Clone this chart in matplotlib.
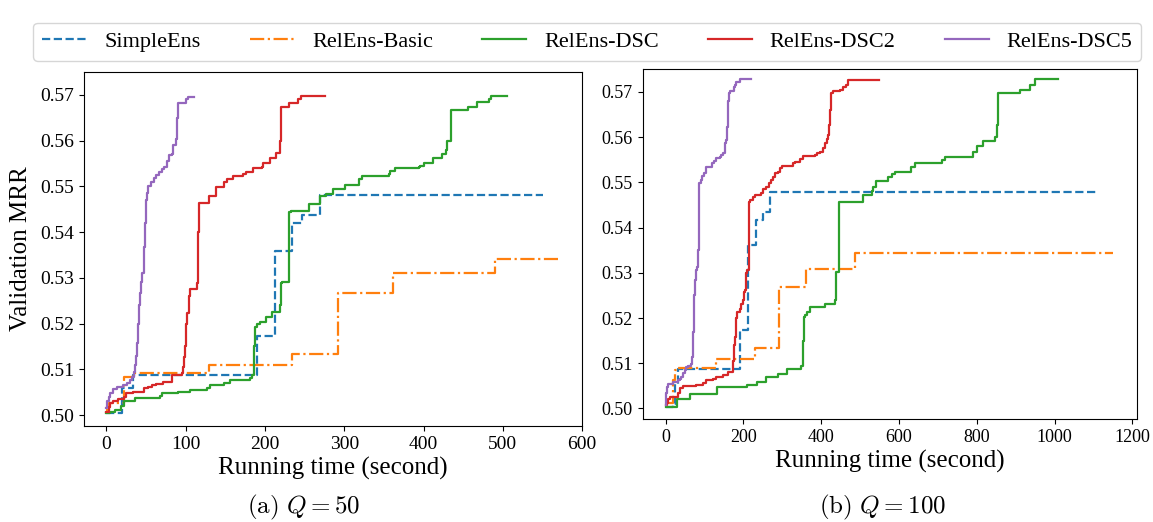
'''
Validation MRR against running time for the ensemble search variants, Q = 50 and Q = 100.
'''
import matplotlib
matplotlib.use("Agg")
import matplotlib.pyplot as plt

# Series names and styles shared by both panels
series_names = ["SimpleEns", "RelEns-Basic", "RelEns-DSC", "RelEns-DSC2", "RelEns-DSC5"]

# ---- Panel (a): Q = 50 (running time in seconds, validation MRR) ----
q50_simple_x = [0, 20, 34, 190, 213, 234, 247, 269, 551]
q50_simple_y = [0.5004, 0.5059, 0.5087, 0.5172, 0.5359, 0.5419, 0.5437, 0.5480, 0.5480]

q50_basic_x = [0, 3, 22, 34, 129, 234, 292, 361, 490, 569]
q50_basic_y = [0.5012, 0.5026, 0.5084, 0.5091, 0.5109, 0.5133, 0.5267, 0.5311, 0.5341, 0.5341]

q50_dsc_x = [0, 5, 11, 18, 22, 36, 68, 70, 90, 106, 127, 131, 148, 156, 181, 184, 186, 188,
             190, 194, 202, 209, 219, 220, 221, 231, 233, 255, 269, 277, 286, 301, 319, 322,
             356, 358, 364, 394, 396, 400, 412, 423, 428, 430, 435, 456, 467, 482, 485, 505]
q50_dsc_y = [0.5004, 0.5007, 0.5012, 0.5020, 0.5030, 0.5037, 0.5042, 0.5048, 0.5051, 0.5055,
             0.5060, 0.5065, 0.5070, 0.5076, 0.5082, 0.5087, 0.5150, 0.5193, 0.5198, 0.5204,
             0.5215, 0.5226, 0.5240, 0.5288, 0.5291, 0.5444, 0.5446, 0.5461, 0.5478, 0.5484,
             0.5495, 0.5504, 0.5517, 0.5522, 0.5527, 0.5534, 0.5539, 0.5542, 0.5545, 0.5550,
             0.5562, 0.5571, 0.5580, 0.5600, 0.5666, 0.5673, 0.5684, 0.5690, 0.5697, 0.5697]

q50_dsc2_x = [0, 3, 5, 9, 15, 22, 25, 34, 47, 53, 58, 63, 72, 83, 96, 97, 98, 99, 100, 101,
              102, 104, 105, 114, 115, 116, 117, 130, 138, 148, 152, 160, 173, 176, 185, 196,
              198, 206, 214, 219, 220, 230, 242, 245, 276]
q50_dsc2_y = [0.5007, 0.5018, 0.5026, 0.5030, 0.5034, 0.5040, 0.5048, 0.5051, 0.5059, 0.5062,
              0.5066, 0.5068, 0.5072, 0.5087, 0.5092, 0.5105, 0.5127, 0.5150, 0.5170, 0.5200,
              0.5223, 0.5260, 0.5276, 0.5288, 0.5340, 0.5400, 0.5463, 0.5478, 0.5498, 0.5509,
              0.5517, 0.5522, 0.5527, 0.5531, 0.5539, 0.5542, 0.5550, 0.5561, 0.5572, 0.5600,
              0.5673, 0.5683, 0.5690, 0.5697, 0.5697]

q50_dsc5_x = [0, 1, 3, 5, 8, 13, 21, 26, 30, 33, 35, 36, 38, 39, 40, 41, 42, 44, 45, 47, 48,
              49, 50, 51, 53, 56, 60, 63, 66, 70, 73, 76, 79, 83, 84, 88, 89, 90, 101, 103, 111]
q50_dsc5_y = [0.5015, 0.5030, 0.5040, 0.5048, 0.5056, 0.5062, 0.5066, 0.5070, 0.5076, 0.5083,
              0.5095, 0.5109, 0.5130, 0.5157, 0.5200, 0.5240, 0.5266, 0.5290, 0.5310, 0.5340,
              0.5367, 0.5420, 0.5470, 0.5485, 0.5500, 0.5510, 0.5519, 0.5525, 0.5531, 0.5537,
              0.5542, 0.5555, 0.5568, 0.5571, 0.5590, 0.5603, 0.5650, 0.5683, 0.5690, 0.5695,
              0.5695]

# ---- Panel (b): Q = 100 ----
q100_simple_x = [0, 18, 23, 32, 190, 211, 233, 250, 268, 1113]
q100_simple_y = [0.5003, 0.5010, 0.5055, 0.5088, 0.5173, 0.5361, 0.5416, 0.5435, 0.5479, 0.5479]

q100_basic_x = [0, 20, 23, 28, 130, 231, 291, 360, 488, 1150]
q100_basic_y = [0.5012, 0.5062, 0.5084, 0.5090, 0.5110, 0.5134, 0.5269, 0.5308, 0.5343, 0.5343]

q100_dsc_x = [0, 28, 62, 131, 208, 235, 259, 289, 311, 349, 353, 355, 358, 364, 371, 409, 435,
              439, 447, 508, 530, 534, 542, 572, 581, 589, 632, 641, 710, 718, 791, 800, 817,
              847, 851, 855, 911, 937, 950, 1010]
q100_dsc_y = [0.5003, 0.5022, 0.5033, 0.5047, 0.5051, 0.5058, 0.5069, 0.5077, 0.5088, 0.5095,
              0.5150, 0.5202, 0.5206, 0.5213, 0.5224, 0.5232, 0.5239, 0.5302, 0.5457, 0.5472,
              0.5480, 0.5490, 0.5504, 0.5512, 0.5518, 0.5524, 0.5533, 0.5542, 0.5550, 0.5557,
              0.5568, 0.5580, 0.5592, 0.5600, 0.5627, 0.5697, 0.5704, 0.5716, 0.5728, 0.5728]

q100_dsc2_x = [0, 4, 6, 10, 32, 36, 45, 79, 96, 105, 122, 130, 148, 160, 173, 175, 178, 182,
               183, 190, 195, 199, 201, 204, 207, 210, 214, 215, 218, 225, 229, 246, 250, 259,
               265, 272, 276, 281, 290, 294, 300, 328, 332, 345, 354, 384, 390, 396, 405, 410,
               416, 418, 421, 423, 425, 430, 448, 456, 465, 470, 549]
q100_dsc2_y = [0.5007, 0.5012, 0.5020, 0.5025, 0.5035, 0.5045, 0.5049, 0.5051, 0.5056, 0.5062,
               0.5066, 0.5069, 0.5075, 0.5080, 0.5106, 0.5140, 0.5158, 0.5200, 0.5213, 0.5220,
               0.5232, 0.5239, 0.5258, 0.5261, 0.5300, 0.5306, 0.5350, 0.5457, 0.5460, 0.5468,
               0.5472, 0.5476, 0.5485, 0.5490, 0.5498, 0.5505, 0.5512, 0.5520, 0.5524, 0.5531,
               0.5536, 0.5542, 0.5546, 0.5552, 0.5558, 0.5560, 0.5565, 0.5568, 0.5575, 0.5586,
               0.5595, 0.5605, 0.5627, 0.5660, 0.5697, 0.5703, 0.5705, 0.5712, 0.5716, 0.5727,
               0.5727]

q100_dsc5_x = [0, 1, 2, 3, 6, 19, 32, 36, 40, 44, 49, 53, 58, 66, 68, 70, 71, 72, 73, 75, 77,
               80, 83, 85, 86, 90, 94, 98, 105, 112, 118, 124, 130, 139, 143, 148, 152, 156,
               158, 160, 161, 162, 165, 175, 178, 182, 190, 220]
q100_dsc5_y = [0.5007, 0.5020, 0.5035, 0.5047, 0.5055, 0.5058, 0.5062, 0.5066, 0.5069, 0.5078,
               0.5084, 0.5091, 0.5095, 0.5099, 0.5114, 0.5122, 0.5170, 0.5217, 0.5250, 0.5284,
               0.5306, 0.5313, 0.5350, 0.5420, 0.5498, 0.5505, 0.5514, 0.5520, 0.5533, 0.5535,
               0.5542, 0.5548, 0.5553, 0.5557, 0.5560, 0.5564, 0.5586, 0.5594, 0.5623, 0.5627,
               0.5680, 0.5697, 0.5701, 0.5710, 0.5716, 0.5723, 0.5728, 0.5728]

# Axis ticks
y_ticks = [0.50, 0.51, 0.52, 0.53, 0.54, 0.55, 0.56, 0.57]
q50_x_ticks = [0, 100, 200, 300, 400, 500, 600]
q100_x_ticks = [0, 200, 400, 600, 800, 1000, 1200]


# Draw one panel of step curves
def draw_panel(ax, curves, x_ticks, x_lim, tick_size):
  colors = ["C0", "C1", "C2", "C3", "C4"]
  styles = ["--", "-.", "-", "-", "-"]
  for (xs, ys), name, color, style in zip(curves, series_names, colors, styles):
    ax.plot(xs, ys, drawstyle="steps-post", color=color, linestyle=style, linewidth=1.6, label=name)
  ax.set_xticks(x_ticks)
  ax.set_yticks(y_ticks)
  ax.set_yticklabels([f"{v:.2f}" for v in y_ticks])
  ax.set_xlim(*x_lim)
  ax.set_ylim(0.4976, 0.5750)
  ax.tick_params(labelsize=tick_size)
  ax.set_xlabel("Running time (second)", fontsize=18, labelpad=3)


def main() -> None:
  plt.rcParams["font.family"] = ["Liberation Serif", "DejaVu Serif"]

  fig = plt.figure(figsize=(11.53, 5.22), dpi=100)

  # Left panel (a)
  ax_left = fig.add_axes([0.0726, 0.1839, 0.4326, 0.6782])
  draw_panel(
    ax_left,
    [(q50_simple_x, q50_simple_y), (q50_basic_x, q50_basic_y), (q50_dsc_x, q50_dsc_y),
     (q50_dsc2_x, q50_dsc2_y), (q50_dsc5_x, q50_dsc5_y)],
    q50_x_ticks, (-28.5, 600.5), 14,
  )
  ax_left.set_ylabel("Validation MRR", fontsize=18, labelpad=6)

  # Right panel (b)
  ax_right = fig.add_axes([0.5574, 0.1967, 0.4287, 0.6705])
  draw_panel(
    ax_right,
    [(q100_simple_x, q100_simple_y), (q100_basic_x, q100_basic_y), (q100_dsc_x, q100_dsc_y),
     (q100_dsc2_x, q100_dsc2_y), (q100_dsc5_x, q100_dsc5_y)],
    q100_x_ticks, (-59, 1212), 13,
  )

  # Shared legend across the top
  handles, labels = ax_left.get_legend_handles_labels()
  fig.legend(
    handles, labels, loc="upper center", bbox_to_anchor=(0.5095, 0.978), ncol=5,
    fontsize=16, columnspacing=2.2, handlelength=2.0, handletextpad=0.8,
    borderpad=0.4, frameon=True,
  )

  # Sub-captions
  fig.text(0.2637, 0.027, r"$\mathrm{(a)}\ Q = 50$", ha="center", va="center",
           fontsize=18, math_fontfamily="cm")
  fig.text(0.7658, 0.027, r"$\mathrm{(b)}\ Q = 100$", ha="center", va="center",
           fontsize=18, math_fontfamily="cm")

  fig.savefig("out.png", dpi=100)


if __name__ == "__main__":
  main()
